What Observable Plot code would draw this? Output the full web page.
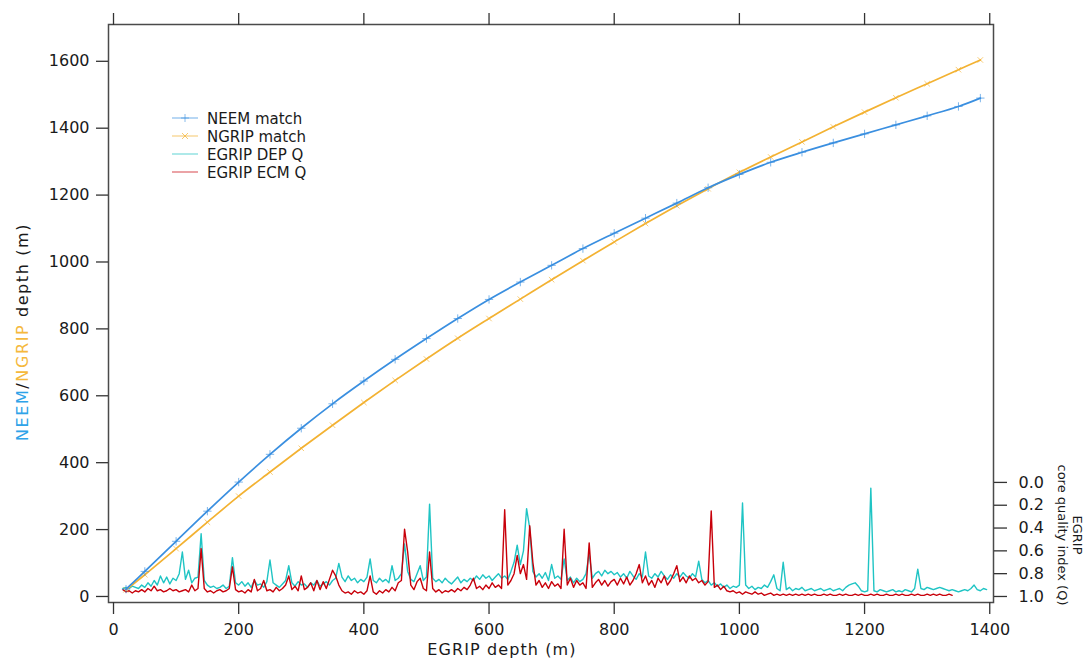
<!DOCTYPE html>
<html><head><meta charset="utf-8">
<script src="https://cdn.jsdelivr.net/npm/d3@7"></script>
<script src="https://cdn.jsdelivr.net/npm/@observablehq/plot@0.6"></script>
<style>
body{margin:0;background:#fff;}
svg{font-family:"DejaVu Sans",sans-serif;}
</style>
</head><body><div id="chart"></div>
<script>
// ---- depth-depth matches (EGRIP depth -> NEEM / NGRIP depth, m)
const egripDepth = [20,50,100,150,200,250,300,350,400,450,500,550,600,650,700,750,800,850,900,950,1000,1050,1100,1150,1200,1250,1300,1350,1385];
const neemDepth  = [22,75,165,255,342,425,503,576,644,709,771,831,888,940,990,1040,1086,1131,1176,1222,1262,1298,1328,1356,1383,1410,1437,1465,1490];
const ngripDepth = [20,65,143,222,300,372,443,512,580,646,710,772,831,889,947,1004,1060,1115,1168,1219,1268,1314,1359,1404,1448,1491,1533,1575,1604];

// ---- core quality index Q
const qDepth = [15,20,25,30,35,40,45,50,55,60,65,70,75,80,85,90,95,100,105,110,
115,120,125,130,135,140,145,150,155,160,165,170,175,180,185,190,195,200,205,210,
215,220,225,230,235,240,245,250,255,260,265,270,275,280,285,290,295,300,305,310,
315,320,325,330,335,340,345,350,355,360,365,370,375,380,385,390,395,400,405,410,
415,420,425,430,435,440,445,450,455,460,465,470,475,480,485,490,495,500,505,510,
515,520,525,530,535,540,545,550,555,560,565,570,575,580,585,590,595,600,605,610,
615,620,625,630,635,640,645,650,655,660,665,670,675,680,685,690,695,700,705,710,
715,720,725,730,735,740,745,750,755,760,765,770,775,780,785,790,795,800,805,810,
815,820,825,830,835,840,845,850,855,860,865,870,875,880,885,890,895,900,905,910,
915,920,925,930,935,940,945,950,955,960,965,970,975,980,985,990,995,1000,1005,1010,
1015,1020,1025,1030,1035,1040,1045,1050,1055,1060,1065,1070,1075,1080,1085,1090,1095,1100,1105,1110,
1115,1120,1125,1130,1135,1140,1145,1150,1155,1160,1165,1170,1175,1180,1185,1190,1195,1200,1205,1210,
1215,1220,1225,1230,1235,1240,1245,1250,1255,1260,1265,1270,1275,1280,1285,1290,1295,1300,1305,1310,
1315,1320,1325,1330,1335,1340,1345,1350,1355,1360,1365,1370,1375,1380,1385,1390,1395];

const depQ = [0.93,0.92,0.93,0.91,0.92,0.93,0.90,0.92,0.88,0.91,0.86,0.90,0.82,0.88,0.83,0.89,0.84,0.86,0.80,0.61,
0.85,0.77,0.88,0.84,0.83,0.45,0.86,0.90,0.92,0.91,0.93,0.92,0.90,0.93,0.91,0.66,0.88,0.90,0.87,0.91,
0.88,0.92,0.86,0.90,0.89,0.92,0.87,0.68,0.88,0.90,0.92,0.89,0.86,0.73,0.88,0.91,0.87,0.90,0.89,0.92,
0.88,0.90,0.86,0.91,0.89,0.87,0.90,0.86,0.84,0.71,0.83,0.87,0.82,0.86,0.84,0.88,0.85,0.87,0.83,0.67,
0.86,0.88,0.84,0.87,0.85,0.88,0.73,0.86,0.84,0.80,0.54,0.78,0.85,0.87,0.80,0.73,0.86,0.83,0.19,0.84,
0.87,0.85,0.88,0.84,0.87,0.89,0.86,0.83,0.88,0.85,0.87,0.84,0.86,0.82,0.85,0.81,0.84,0.82,0.86,0.83,
0.80,0.84,0.82,0.85,0.78,0.70,0.55,0.72,0.60,0.23,0.40,0.78,0.83,0.80,0.84,0.79,0.86,0.72,0.84,0.82,
0.85,0.67,0.86,0.83,0.88,0.84,0.87,0.85,0.80,0.62,0.84,0.80,0.78,0.82,0.77,0.80,0.78,0.81,0.79,0.83,
0.80,0.84,0.78,0.82,0.85,0.80,0.83,0.61,0.82,0.84,0.80,0.83,0.78,0.82,0.85,0.81,0.84,0.80,0.83,0.79,
0.82,0.84,0.80,0.83,0.69,0.85,0.88,0.86,0.90,0.88,0.91,0.89,0.92,0.90,0.93,0.91,0.92,0.90,0.18,0.90,
0.93,0.91,0.94,0.92,0.93,0.90,0.92,0.87,0.81,0.93,0.95,0.70,0.94,0.92,0.95,0.93,0.94,0.92,0.95,0.94,
0.93,0.95,0.94,0.93,0.95,0.94,0.93,0.95,0.94,0.93,0.95,0.92,0.90,0.89,0.88,0.91,0.95,0.96,0.95,0.05,
0.95,0.96,0.94,0.95,0.96,0.95,0.94,0.96,0.95,0.96,0.94,0.95,0.96,0.93,0.76,0.93,0.94,0.92,0.93,0.94,
0.93,0.92,0.93,0.94,0.95,0.94,0.95,0.96,0.95,0.94,0.95,0.93,0.90,0.94,0.95,0.93,0.94];

const ecmQ = [0.94,0.96,0.95,0.97,0.95,0.96,0.94,0.96,0.93,0.95,0.91,0.95,0.94,0.96,0.95,0.93,0.95,0.94,0.96,0.95,
0.94,0.96,0.90,0.95,0.93,0.58,0.93,0.96,0.95,0.97,0.95,0.94,0.96,0.95,0.93,0.74,0.94,0.96,0.95,0.97,
0.94,0.96,0.85,0.95,0.93,0.86,0.95,0.94,0.96,0.92,0.95,0.93,0.90,0.82,0.94,0.91,0.95,0.82,0.94,0.92,
0.88,0.95,0.86,0.94,0.87,0.93,0.85,0.77,0.82,0.90,0.95,0.97,0.96,0.98,0.95,0.97,0.96,0.98,0.95,0.82,
0.96,0.98,0.95,0.97,0.94,0.96,0.92,0.95,0.88,0.86,0.41,0.61,0.90,0.94,0.87,0.84,0.93,0.95,0.61,0.93,
0.96,0.94,0.97,0.95,0.96,0.94,0.96,0.93,0.95,0.92,0.94,0.90,0.84,0.93,0.91,0.94,0.90,0.93,0.88,0.92,
0.90,0.93,0.24,0.90,0.86,0.80,0.64,0.80,0.72,0.85,0.38,0.70,0.90,0.86,0.92,0.88,0.93,0.87,0.91,0.89,
0.93,0.41,0.90,0.84,0.92,0.86,0.90,0.88,0.93,0.53,0.92,0.88,0.85,0.90,0.86,0.91,0.87,0.85,0.90,0.84,
0.89,0.83,0.90,0.86,0.80,0.72,0.88,0.82,0.90,0.86,0.92,0.84,0.88,0.82,0.90,0.86,0.80,0.73,0.87,0.83,
0.88,0.82,0.86,0.84,0.88,0.86,0.90,0.87,0.25,0.92,0.90,0.94,0.91,0.95,0.96,0.95,0.97,0.96,0.98,0.96,
0.97,0.98,0.96,0.98,0.97,0.99,0.98,0.97,0.99,0.98,0.99,0.98,0.99,0.98,0.99,0.98,0.99,0.98,0.99,0.98,
0.99,0.98,0.99,0.99,0.98,0.99,0.98,0.99,0.99,0.98,0.99,0.98,0.99,0.99,0.98,0.99,0.98,0.99,0.99,0.98,
0.99,0.98,0.99,0.99,0.98,0.99,0.99,0.98,0.99,0.98,0.99,0.99,0.98,0.99,0.98,0.99,0.99,0.98,0.99,0.98,
0.99,0.98,0.99,0.99,0.98,0.99];

const xTicks = [0,200,400,600,800,1000,1200,1400];
const yTicks = [0,200,400,600,800,1000,1200,1400,1600];
const qTicks = [0,0.2,0.4,0.6,0.8,1.0];

const seriesNames = ["NEEM match","NGRIP match","EGRIP DEP Q","EGRIP ECM Q"];
const seriesColors = ["#3a8fe0","#f3b232","#1fc4c4","#c8000a"];

// Q band: Q = 0 drawn at 341 m on the left axis, Q = 1 at 0 m
const Q_TOP = 341;
const qToY = q => Q_TOP * (1 - q);

const match = egripDepth.map((e, i) => ({e, neem: neemDepth[i], ngrip: ngripDepth[i]}));
const dep = depQ.map((q, i) => ({d: qDepth[i], q}));
const ecm = ecmQ.map((q, i) => ({d: qDepth[i], q}));

const chart = Plot.plot({
  width: 1085, height: 662,
  marginLeft: 108, marginRight: 92, marginTop: 24, marginBottom: 60,
  style: {fontFamily: "DejaVu Sans, sans-serif", fontSize: "16px", color: "#1a1a1a", background: "#fff", overflow: "visible"},
  x: {domain: [-8, 1406]},
  y: {domain: [-18, 1710]},
  marks: [
    Plot.line(dep, {x: "d", y: d => qToY(d.q), stroke: seriesColors[2], strokeWidth: 1.4}),
    Plot.line(ecm, {x: "d", y: d => qToY(d.q), stroke: seriesColors[3], strokeWidth: 1.4}),
    Plot.line(match, {x: "e", y: "ngrip", stroke: seriesColors[1], strokeWidth: 1.7, curve: "catmull-rom"}),
    Plot.dot(match, {x: "e", y: "ngrip", symbol: "times", r: 2.6, stroke: seriesColors[1], strokeWidth: 0.9, strokeOpacity: 0.75}),
    Plot.line(match, {x: "e", y: "neem", stroke: seriesColors[0], strokeWidth: 1.7, curve: "catmull-rom"}),
    Plot.dot(match, {x: "e", y: "neem", symbol: "plus", r: 2.8, stroke: seriesColors[0], strokeWidth: 0.9, strokeOpacity: 0.75}),
    Plot.frame({stroke: "#4a4a4a", strokeWidth: 1.5}),
    Plot.axisX({anchor: "bottom", ticks: xTicks, tickFormat: d3.format("d"), tickSize: 12, tickPadding: 9, label: null, stroke: "#333", strokeWidth: 1.3}),
    Plot.axisX({anchor: "top", ticks: xTicks, tickFormat: () => "", tickSize: 12, label: null, stroke: "#333", strokeWidth: 1.3}),
    Plot.axisY({anchor: "left", ticks: yTicks, tickFormat: d3.format("d"), tickSize: 12, tickPadding: 7, label: null, stroke: "#333", strokeWidth: 1.3}),
    Plot.axisY({anchor: "right", ticks: qTicks.map(qToY), tickFormat: v => (1 - v / Q_TOP).toFixed(1),
      tickSize: 13, tickPadding: 12, label: null, stroke: "#333", strokeWidth: 1.3}),
    Plot.text(["EGRIP depth (m)"], {frameAnchor: "bottom", dx: -49, dy: 52, fontSize: 16, fill: "#1a1a1a"})
  ]
});
document.getElementById("chart").append(chart);

const svg = d3.select(chart);
// letter spacing for the bottom title
svg.selectAll("text").filter(function() { return this.textContent === "EGRIP depth (m)"; }).attr("letter-spacing", "1.1px");

// y-axis title with coloured core names
const yl = svg.append("text")
  .attr("transform", "translate(28,332) rotate(-90)")
  .attr("text-anchor", "middle").attr("font-size", 16).attr("letter-spacing", "1.6px");
yl.append("tspan").attr("fill", "#2ea3e8").text("NEEM");
yl.append("tspan").attr("fill", "#1a1a1a").text("/");
yl.append("tspan").attr("fill", "#f5b83c").text("NGRIP");
yl.append("tspan").attr("fill", "#1a1a1a").text(" depth (m)");

// right axis title
const rl = svg.append("g").attr("transform", "translate(1073,535) rotate(90)")
  .attr("font-size", 13).attr("fill", "#1a1a1a").attr("text-anchor", "middle");
rl.append("text").attr("x", 0).attr("y", 0).text("EGRIP");
rl.append("text").attr("x", 0).attr("y", 15).text("core quality index (Q)");

// legend
const lg = svg.append("g").attr("font-size", 15).attr("fill", "#1a1a1a").attr("text-anchor", "start");
const rowY = [118, 136, 154, 172];
seriesNames.forEach((name, i) => {
  const y = rowY[i];
  lg.append("line").attr("x1", 172).attr("x2", 198).attr("y1", y).attr("y2", y)
    .attr("stroke", seriesColors[i]).attr("stroke-width", 1.2).attr("stroke-opacity", 0.6);
  if (i === 0) {
    lg.append("path").attr("d", `M185,${y-4}V${y+4}M181,${y}H189`).attr("stroke", seriesColors[i]).attr("stroke-opacity", 0.6);
  } else if (i === 1) {
    lg.append("path").attr("d", `M182,${y-3}L188,${y+3}M182,${y+3}L188,${y-3}`).attr("stroke", seriesColors[i]).attr("stroke-opacity", 0.7);
  }
  lg.append("text").attr("x", 207).attr("y", y + 5.5).attr("text-anchor", "start").text(name);
});
</script>
</body></html>
